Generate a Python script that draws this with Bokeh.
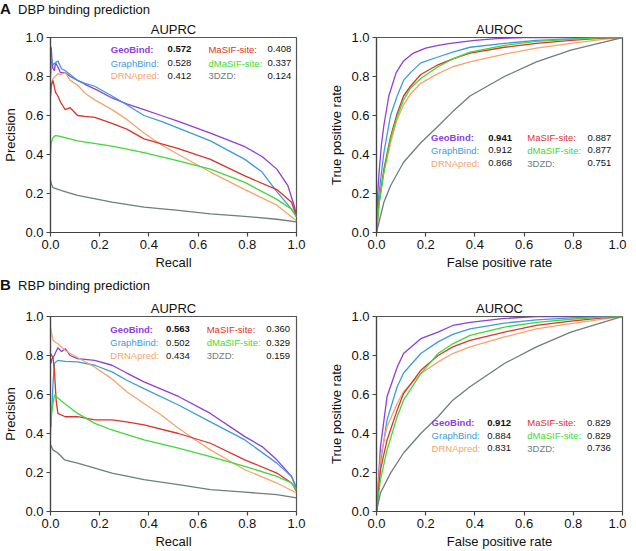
from bokeh.plotting import figure
from bokeh.layouts import column, row
from bokeh.models import Div, Range1d, NumeralTickFormatter
from bokeh.core.properties import value
from bokeh.embed import file_html
from bokeh.resources import INLINE

FONT = "Liberation Sans"

methods = ["GeoBind", "GraphBind", "DRNApred", "MaSIF-site", "dMaSIF-site", "3DZD"]
colors = ["#8b3fdb", "#3d9bd8", "#f4a46c", "#d9342b", "#3fd93a", "#6e7d7e"]

dbp_auprc = [0.572, 0.528, 0.412, 0.408, 0.337, 0.124]
dbp_auroc = [0.941, 0.912, 0.868, 0.887, 0.877, 0.751]
rbp_auprc = [0.563, 0.502, 0.434, 0.360, 0.329, 0.159]
rbp_auroc = [0.912, 0.884, 0.831, 0.829, 0.829, 0.736]

ticks = [0.0, 0.2, 0.4, 0.6, 0.8, 1.0]

# ---- DBP precision-recall curves ----
dbp_pr_geobind_r = [0.0, 0.003, 0.006, 0.01, 0.016, 0.02, 0.03, 0.04, 0.06, 0.08, 0.11, 0.14, 0.19, 0.25, 0.31, 0.38, 0.45, 0.52, 0.65, 0.79, 0.86, 0.92, 0.965, 0.99, 1.0]
dbp_pr_geobind_p = [0.80, 0.95, 0.88, 0.84, 0.83, 0.87, 0.85, 0.82, 0.82, 0.80, 0.78, 0.76, 0.73, 0.69, 0.66, 0.63, 0.60, 0.57, 0.51, 0.44, 0.39, 0.325, 0.24, 0.14, 0.09]
dbp_pr_graphbind_r = [0.0, 0.003, 0.01, 0.02, 0.03, 0.045, 0.06, 0.08, 0.11, 0.14, 0.18, 0.25, 0.31, 0.38, 0.45, 0.52, 0.65, 0.79, 0.86, 0.92, 0.98, 1.0]
dbp_pr_graphbind_p = [0.82, 0.90, 0.86, 0.87, 0.88, 0.84, 0.83, 0.81, 0.78, 0.765, 0.75, 0.70, 0.655, 0.60, 0.57, 0.535, 0.47, 0.375, 0.31, 0.21, 0.12, 0.08]
dbp_pr_drnapred_r = [0.0, 0.003, 0.01, 0.02, 0.03, 0.04, 0.06, 0.08, 0.11, 0.14, 0.18, 0.25, 0.31, 0.38, 0.45, 0.52, 0.65, 0.79, 0.92, 1.0]
dbp_pr_drnapred_p = [0.70, 0.76, 0.79, 0.80, 0.815, 0.81, 0.82, 0.78, 0.756, 0.714, 0.68, 0.63, 0.58, 0.51, 0.45, 0.40, 0.31, 0.22, 0.14, 0.06]
dbp_pr_masif_r = [0.0, 0.003, 0.01, 0.02, 0.03, 0.04, 0.05, 0.06, 0.08, 0.11, 0.14, 0.18, 0.25, 0.31, 0.38, 0.52, 0.65, 0.79, 0.92, 0.98, 1.0]
dbp_pr_masif_p = [0.70, 0.75, 0.78, 0.72, 0.70, 0.67, 0.65, 0.63, 0.64, 0.60, 0.595, 0.59, 0.56, 0.53, 0.48, 0.43, 0.375, 0.29, 0.22, 0.155, 0.08]
dbp_pr_dmasif_r = [0.0, 0.003, 0.01, 0.02, 0.03, 0.06, 0.11, 0.25, 0.38, 0.52, 0.65, 0.79, 0.92, 0.98, 1.0]
dbp_pr_dmasif_p = [0.40, 0.46, 0.486, 0.497, 0.495, 0.486, 0.47, 0.443, 0.41, 0.367, 0.325, 0.257, 0.17, 0.12, 0.08]
dbp_pr_3dzd_r = [0.0, 0.003, 0.01, 0.045, 0.11, 0.25, 0.38, 0.52, 0.65, 0.79, 0.92, 1.0]
dbp_pr_3dzd_p = [0.27, 0.25, 0.23, 0.215, 0.19, 0.156, 0.13, 0.113, 0.096, 0.083, 0.068, 0.054]

# ---- RBP precision-recall curves ----
rbp_pr_geobind_r = [0.002, 0.005, 0.015, 0.03, 0.045, 0.06, 0.08, 0.11, 0.18, 0.25, 0.31, 0.38, 0.52, 0.65, 0.79, 0.86, 0.92, 0.98, 1.0]
rbp_pr_geobind_p = [0.76, 0.78, 0.80, 0.84, 0.82, 0.835, 0.80, 0.784, 0.775, 0.75, 0.71, 0.665, 0.59, 0.503, 0.384, 0.333, 0.265, 0.18, 0.12]
rbp_pr_graphbind_r = [0.002, 0.01, 0.016, 0.03, 0.06, 0.11, 0.18, 0.25, 0.31, 0.38, 0.52, 0.65, 0.79, 0.92, 0.98, 1.0]
rbp_pr_graphbind_p = [0.435, 0.65, 0.76, 0.775, 0.77, 0.767, 0.75, 0.716, 0.673, 0.63, 0.546, 0.46, 0.367, 0.248, 0.18, 0.11]
rbp_pr_drnapred_r = [0.0, 0.01, 0.03, 0.06, 0.08, 0.11, 0.18, 0.25, 0.31, 0.38, 0.45, 0.52, 0.59, 0.65, 0.79, 0.92, 1.0]
rbp_pr_drnapred_p = [0.945, 0.877, 0.86, 0.826, 0.81, 0.79, 0.74, 0.68, 0.614, 0.554, 0.495, 0.427, 0.367, 0.316, 0.214, 0.146, 0.095]
rbp_pr_masif_r = [0.0, 0.01, 0.016, 0.023, 0.03, 0.06, 0.11, 0.18, 0.25, 0.31, 0.38, 0.52, 0.65, 0.79, 0.92, 0.98, 1.0]
rbp_pr_masif_p = [0.81, 0.79, 0.72, 0.57, 0.503, 0.486, 0.486, 0.47, 0.47, 0.46, 0.444, 0.40, 0.35, 0.265, 0.197, 0.146, 0.104]
rbp_pr_dmasif_r = [0.0, 0.003, 0.016, 0.057, 0.11, 0.18, 0.25, 0.38, 0.52, 0.65, 0.79, 0.92, 0.98, 1.0]
rbp_pr_dmasif_p = [0.40, 0.50, 0.597, 0.554, 0.503, 0.452, 0.418, 0.367, 0.325, 0.282, 0.231, 0.18, 0.146, 0.112]
rbp_pr_3dzd_r = [0.0, 0.01, 0.03, 0.057, 0.11, 0.25, 0.38, 0.52, 0.65, 0.79, 0.92, 1.0]
rbp_pr_3dzd_p = [0.342, 0.316, 0.30, 0.265, 0.248, 0.197, 0.163, 0.138, 0.112, 0.099, 0.087, 0.07]

# ---- DBP ROC curves ----
dbp_roc_geobind_f = [0, 0.005, 0.01, 0.02, 0.03, 0.05, 0.08, 0.11, 0.15, 0.2, 0.25, 0.3, 0.4, 0.5, 0.6, 1.0]
dbp_roc_geobind_t = [0, 0.2, 0.3, 0.45, 0.55, 0.70, 0.82, 0.88, 0.92, 0.945, 0.96, 0.97, 0.985, 0.995, 1.0, 1.0]
dbp_roc_f = [0, 0.01, 0.03, 0.057, 0.084, 0.11, 0.138, 0.18, 0.25, 0.31, 0.38, 0.52, 0.65, 0.79, 0.92, 1.0]
dbp_roc_graphbind_t = [0, 0.2, 0.41, 0.60, 0.70, 0.78, 0.82, 0.87, 0.90, 0.925, 0.95, 0.97, 0.985, 0.993, 1.0, 1.0]
dbp_roc_drnapred_t = [0, 0.15, 0.31, 0.46, 0.58, 0.655, 0.71, 0.765, 0.815, 0.85, 0.875, 0.915, 0.945, 0.97, 0.99, 1.0]
dbp_roc_masif_t = [0, 0.15, 0.325, 0.49, 0.61, 0.70, 0.75, 0.81, 0.86, 0.89, 0.92, 0.95, 0.97, 0.985, 0.997, 1.0]
dbp_roc_dmasif_t = [0, 0.14, 0.31, 0.48, 0.595, 0.68, 0.74, 0.79, 0.85, 0.89, 0.925, 0.96, 0.98, 0.99, 1.0, 1.0]
dbp_roc_3dzd_f = [0, 0.03, 0.057, 0.11, 0.18, 0.25, 0.31, 0.38, 0.45, 0.52, 0.65, 0.79, 0.92, 1.0]
dbp_roc_3dzd_t = [0, 0.155, 0.24, 0.36, 0.46, 0.545, 0.62, 0.70, 0.75, 0.80, 0.875, 0.935, 0.975, 1.0]

# ---- RBP ROC curves ----
rbp_roc_f = [0, 0.016, 0.043, 0.084, 0.11, 0.18, 0.25, 0.31, 0.38, 0.52, 0.65, 0.79, 0.92, 1.0]
rbp_roc_geobind_t = [0, 0.33, 0.59, 0.74, 0.81, 0.886, 0.92, 0.954, 0.97, 0.99, 1.0, 1.0, 1.0, 1.0]
rbp_roc_graphbind_t = [0, 0.25, 0.47, 0.64, 0.71, 0.81, 0.87, 0.908, 0.937, 0.966, 0.983, 0.993, 1.0, 1.0]
rbp_roc_drnapred_t = [0, 0.28, 0.435, 0.554, 0.614, 0.707, 0.767, 0.81, 0.844, 0.895, 0.937, 0.963, 0.986, 1.0]
rbp_roc_masif_t = [0, 0.214, 0.367, 0.52, 0.605, 0.724, 0.80, 0.844, 0.878, 0.92, 0.954, 0.976, 0.993, 1.0]
rbp_roc_dmasif_t = [0, 0.163, 0.316, 0.486, 0.571, 0.707, 0.81, 0.86, 0.903, 0.946, 0.97, 0.986, 0.997, 1.0]
rbp_roc_3dzd_f = [0, 0.016, 0.057, 0.11, 0.18, 0.25, 0.31, 0.38, 0.52, 0.65, 0.79, 0.92, 1.0]
rbp_roc_3dzd_t = [0, 0.095, 0.197, 0.30, 0.40, 0.486, 0.571, 0.64, 0.759, 0.844, 0.92, 0.97, 1.0]


def make_fig(title, xlabel, ylabel, bl, br):
    p = figure(frame_width=246, frame_height=195, x_range=Range1d(0, 1), y_range=Range1d(0, 1),
               output_backend="svg", toolbar_location=None, title=title,
               min_border_left=bl, min_border_right=br, min_border_top=0, min_border_bottom=0)
    p.title.align = "center"
    p.title.text_font = FONT
    p.title.text_font_size = "13px"
    p.title.text_font_style = "normal"
    p.title.text_color = "#111111"
    p.title.standoff = 2
    p.grid.visible = False
    p.outline_line_color = "#555555"
    p.outline_line_width = 1.2
    for ax, lab in ((p.xaxis, xlabel), (p.yaxis, ylabel)):
        ax.ticker = ticks
        ax.formatter = NumeralTickFormatter(format="0.0")
        ax.axis_label = lab
        ax.axis_label_text_font = FONT
        ax.axis_label_text_font_size = "13px"
        ax.axis_label_text_font_style = "normal"
        ax.axis_label_text_color = "#111111"
        ax.major_label_text_font = FONT
        ax.major_label_text_font_size = "13px"
        ax.major_label_text_color = "#111111"
        ax.major_label_standoff = 3
        ax.major_tick_in = 0
        ax.major_tick_out = 4
        ax.minor_tick_line_color = None
        ax.axis_line_color = "#444444"
        ax.axis_line_width = 1.2
        ax.major_tick_line_color = "#444444"
        ax.major_tick_line_width = 1.2
    p.xaxis.axis_label_standoff = 3
    p.yaxis.axis_label_standoff = 4
    return p


def add_legend(p, scores, xcols, yrows):
    for i, (name, color, sc) in enumerate(zip(methods, colors, scores)):
        c, r = divmod(i, 3)
        bold = "bold" if i == 0 else "normal"
        p.text(x=[xcols[2 * c]], y=[yrows[r]], text=[name + ":"], text_color=color,
               text_font=value(FONT), text_font_size="9.5px", text_font_style=bold,
               text_baseline="middle", text_align="left")
        p.text(x=[xcols[2 * c + 1]], y=[yrows[r]], text=["%.3f" % sc], text_color="#111111",
               text_font=value(FONT), text_font_size="9.5px", text_font_style=bold,
               text_baseline="middle", text_align="left")


def draw(p, curves):
    for (xs, ys), color in zip(curves, colors):
        p.line(xs, ys, line_color=color, line_width=1.3)


p1 = make_fig("AUPRC", "Recall", "Precision", 50, 10)
draw(p1, [(dbp_pr_geobind_r, dbp_pr_geobind_p), (dbp_pr_graphbind_r, dbp_pr_graphbind_p),
          (dbp_pr_drnapred_r, dbp_pr_drnapred_p), (dbp_pr_masif_r, dbp_pr_masif_p),
          (dbp_pr_dmasif_r, dbp_pr_dmasif_p), (dbp_pr_3dzd_r, dbp_pr_3dzd_p)])
add_legend(p1, dbp_auprc, [0.245, 0.476, 0.642, 0.882], [0.939, 0.869, 0.803])

p2 = make_fig("AUROC", "False positive rate", "True positive rate", 70, 4)
draw(p2, [(dbp_roc_geobind_f, dbp_roc_geobind_t), (dbp_roc_f, dbp_roc_graphbind_t),
          (dbp_roc_f, dbp_roc_drnapred_t), (dbp_roc_f, dbp_roc_masif_t),
          (dbp_roc_f, dbp_roc_dmasif_t), (dbp_roc_3dzd_f, dbp_roc_3dzd_t)])
add_legend(p2, dbp_auroc, [0.222, 0.454, 0.613, 0.858], [0.487, 0.421, 0.355])

p3 = make_fig("AUPRC", "Recall", "Precision", 50, 10)
draw(p3, [(rbp_pr_geobind_r, rbp_pr_geobind_p), (rbp_pr_graphbind_r, rbp_pr_graphbind_p),
          (rbp_pr_drnapred_r, rbp_pr_drnapred_p), (rbp_pr_masif_r, rbp_pr_masif_p),
          (rbp_pr_dmasif_r, rbp_pr_dmasif_p), (rbp_pr_3dzd_r, rbp_pr_3dzd_p)])
add_legend(p3, rbp_auprc, [0.243, 0.470, 0.635, 0.877], [0.934, 0.866, 0.798])

p4 = make_fig("AUROC", "False positive rate", "True positive rate", 70, 4)
draw(p4, [(rbp_roc_f, rbp_roc_geobind_t), (rbp_roc_f, rbp_roc_graphbind_t),
          (rbp_roc_f, rbp_roc_drnapred_t), (rbp_roc_f, rbp_roc_masif_t),
          (rbp_roc_f, rbp_roc_dmasif_t), (rbp_roc_3dzd_f, rbp_roc_3dzd_t)])
add_legend(p4, rbp_auroc, [0.224, 0.450, 0.613, 0.856], [0.456, 0.388, 0.325])

styleA = {"font-family": FONT, "font-size": "13px", "line-height": "18px", "color": "#111111"}
styleB = {"font-family": FONT, "font-size": "13px", "line-height": "26px", "color": "#111111"}
divA = Div(text='<span style="font-weight:bold;font-size:15px">A</span>&nbsp;&nbsp;DBP binding prediction',
           width=620, height=18, margin=(0, 0, 0, 0), styles=styleA)
divB = Div(text='<span style="font-weight:bold;font-size:15px">B</span>&nbsp;&nbsp;RBP binding prediction',
           width=620, height=25, margin=(0, 0, 0, 0), styles=styleB)

layout = column(divA, row(p1, p2, spacing=0), divB, row(p3, p4, spacing=0), spacing=0)

open("out.html", "w").write(file_html(layout, INLINE))
